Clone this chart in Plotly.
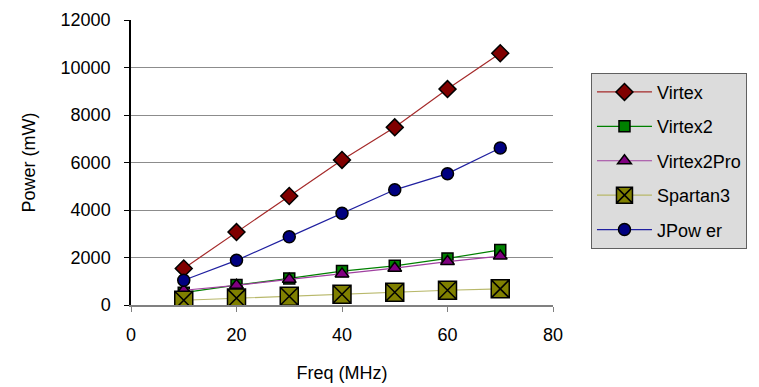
import plotly.graph_objects as go

freq = [10, 20, 30, 40, 50, 60, 70]
virtex = [1540, 3070, 4590, 6110, 7480, 9090, 10600]
virtex2 = [520, 840, 1120, 1430, 1650, 1960, 2320]
virtex2pro = [620, 830, 1080, 1310, 1550, 1830, 2060]
spartan3 = [200, 290, 370, 450, 535, 620, 680]
jpower = [1040, 1880, 2870, 3860, 4850, 5530, 6610]

y_ticks = [0, 2000, 4000, 6000, 8000, 10000, 12000]
x_ticks = [0, 20, 40, 60, 80]

FONT = "Liberation Sans, Arial, sans-serif"
FS = 18

series = [
    ("Virtex", virtex, "#a52a2a", dict(symbol="diamond", size=13, color="#800000", line=dict(color="black", width=1.5))),
    ("Virtex2", virtex2, "#008000", dict(symbol="square", size=11, color="#008000", line=dict(color="black", width=1.5))),
    ("Virtex2Pro", virtex2pro, "#a040a0", dict(symbol="triangle-up", size=12, color="#800080", line=dict(color="black", width=1.5))),
    ("Spartan3", spartan3, "#b8b86a", dict(symbol="square-x", size=18, color="#808000", line=dict(color="black", width=1.5))),
    ("JPow er", jpower, "#2020a0", dict(symbol="circle", size=12, color="#000080", line=dict(color="black", width=1.5))),
]

fig = go.Figure()
for i, (name, vals, lc, mk) in enumerate(series):
    fig.add_trace(go.Scatter(
        x=freq, y=vals, name=name, mode="lines+markers",
        line=dict(color=lc, width=1.2), marker=mk,
        legendgroup=f"g{i}",
    ))

fig.update_layout(
    width=759, height=387,
    margin=dict(l=131, r=206, t=20, b=82, autoexpand=False),
    paper_bgcolor="white", plot_bgcolor="white",
    font=dict(family=FONT, size=FS, color="black"),
    showlegend=True,
    legend=dict(
        x=1.09, y=0.815, xanchor="left", yanchor="top",
        bgcolor="#dcdcdc", bordercolor="#606060", borderwidth=1,
        font=dict(family=FONT, size=FS, color="black"),
        tracegroupgap=8, itemsizing="trace", itemwidth=55,
        entrywidth=160, entrywidthmode="pixels",
    ),
    xaxis=dict(
        range=[0, 80], tickvals=x_ticks, ticktext=[str(v) for v in x_ticks],
        showgrid=False, zeroline=False, automargin=False,
        showline=True, linecolor="#808080", linewidth=1.5,
        ticks="outside", ticklen=5, tickcolor="#808080",
        ticklabelstandoff=8,
        title=dict(text="Freq (MHz)", font=dict(family=FONT, size=FS), standoff=22),
        tickfont=dict(family=FONT, size=FS),
    ),
    yaxis=dict(
        range=[0, 12000], tickvals=y_ticks, ticktext=[str(v) for v in y_ticks],
        showgrid=True, gridcolor="#8c8c8c", gridwidth=1,
        zeroline=False, automargin=False,
        showline=True, linecolor="black", linewidth=1.5,
        ticks="outside", ticklen=5, tickcolor="black",
        ticklabelstandoff=10,
        title=dict(text="Power (mW)", font=dict(family=FONT, size=FS), standoff=20),
        tickfont=dict(family=FONT, size=FS),
    ),
)

fig.write_html("out.html")
